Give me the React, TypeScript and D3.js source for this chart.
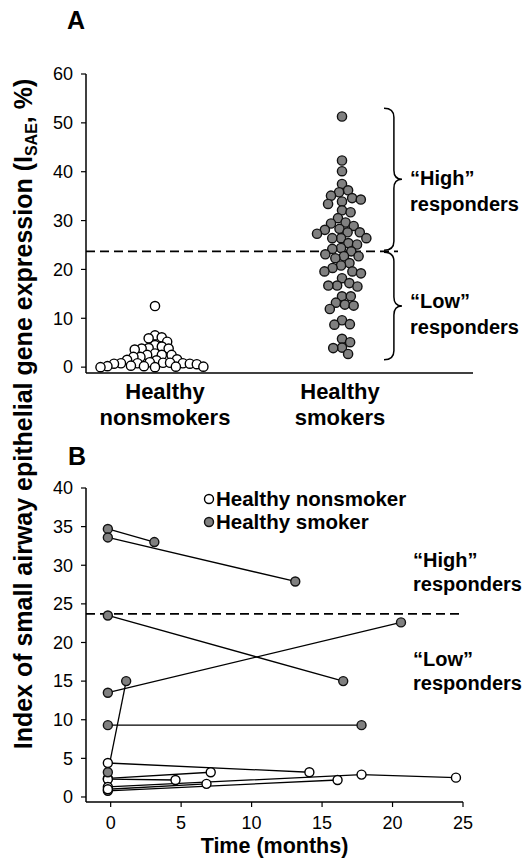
import React from "react";
import * as d3 from "d3";

// ---------- DATA ----------
const categoriesA = ["Healthy nonsmokers", "Healthy smokers"];
const nonsmokersA = [12.5, 6.5, 6.1, 5.9, 5.2, 4.5, 4.2, 3.9, 3.8, 3.8, 3.6, 2.8, 2.5, 2.5, 2.5, 2.1, 2.1, 1.6, 1.5, 1.4, 0.9, 0.7, 0.8, 0.6, 0.8, 1.0, 0.7, 0.9, 0.8, 0.1, 0.0, 0.2, 0.3, 0.1, 0.0, 0.2];
const smokersA = [51.3, 42.3, 40.1, 37.5, 36.2, 35.8, 35.1, 34.6, 34.3, 33.9, 33.4, 32.1, 31.7, 30.5, 29.6, 29.4, 28.9, 28.3, 28.1, 27.6, 27.6, 27.3, 26.4, 26.4, 26.4, 25.4, 25.1, 24.4, 24.2, 23.7, 23.1, 22.7, 22.7, 22.3, 21.3, 20.8, 20.3, 19.6, 19.6, 19.2, 18.2, 17.2, 16.7, 16.7, 16.5, 14.5, 14.5, 13.2, 12.8, 12.6, 11.9, 9.6, 8.8, 8.7, 5.8, 5.1, 4.0, 3.9, 2.7];
const yTicksA = [0, 10, 20, 30, 40, 50, 60];
const threshold = 23.7;
const highBraceA = [53, 23.9];
const lowBraceA = [23.5, 1.5];

// Panel B: each subject = list of [months, index]
const smokerSubjectsB: [number, number][][] = [
  [[-0.2, 34.7], [3.1, 33.0]],
  [[-0.2, 33.6], [13.1, 27.9]],
  [[-0.2, 23.5], [16.5, 15.0]],
  [[-0.2, 13.5], [20.6, 22.6]],
  [[-0.2, 3.2], [1.1, 15.0]],
  [[-0.2, 9.3], [17.8, 9.3]],
];
const nonsmokerSubjectsB: [number, number][][] = [
  [[-0.2, 4.4], [14.1, 3.2]],
  [[-0.2, 2.4], [7.1, 3.2]],
  [[-0.2, 2.3], [4.6, 2.2]],
  [[-0.2, 1.3], [17.8, 2.9], [24.5, 2.5]],
  [[-0.2, 0.8], [16.1, 2.2]],
  [[-0.2, 1.0], [6.8, 1.7]],
];
const xTicksB = [0, 5, 10, 15, 20, 25];
const yTicksB = [0, 5, 10, 15, 20, 25, 30, 35, 40];

const GREY = "#808080";
const FONT = "'Liberation Sans', Arial, sans-serif";

function beeswarm(values: number[], cx: number, y: (v: number) => number, d: number) {
  const pts = values.map((v) => ({ v, y: y(v), x: 0 })).sort((a, b) => a.y - b.y);
  const placed: { x: number; y: number }[] = [];
  for (const p of pts) {
    const cands = [0];
    for (const q of placed) {
      const dy = p.y - q.y;
      if (Math.abs(dy) < d) {
        const dx = Math.sqrt(d * d - dy * dy);
        cands.push(q.x + dx, q.x - dx);
      }
    }
    cands.sort((a, b) => Math.abs(a) - Math.abs(b));
    let chosen = 0;
    for (const c of cands) {
      let ok = true;
      for (const q of placed) {
        if (Math.hypot(c - q.x, p.y - q.y) < d - 0.01) { ok = false; break; }
      }
      if (ok) { chosen = c; break; }
    }
    p.x = chosen;
    placed.push({ x: chosen, y: p.y });
  }
  return pts.map((p) => ({ cx: cx + p.x, cy: p.y }));
}

function bracePath(x0: number, yTop: number, yBot: number, w: number) {
  const r = 9;
  const xm = x0 + w * 0.55;
  const ymid = (yTop + yBot) / 2;
  return `M${x0},${yTop} Q${xm},${yTop} ${xm},${yTop + r} L${xm},${ymid - r} Q${xm},${ymid} ${x0 + w},${ymid} Q${xm},${ymid} ${xm},${ymid + r} L${xm},${yBot - r} Q${xm},${yBot} ${x0},${yBot}`;
}

export default function App() {
  // Panel A scales
  const yA = d3.scaleLinear().domain([-1.2, 60]).range([373, 74]);
  const xA = d3.scalePoint<string>().domain(categoriesA).range([155, 342]);
  const axA = { left: 86, right: 473, bottom: 373 };
  const rA = 4.6;
  const nsPts = beeswarm(nonsmokersA, xA(categoriesA[0])!, yA, 7.0);
  const smPts = beeswarm(smokersA, xA(categoriesA[1])!, yA, 8.8);

  // Panel B scales
  const xB = d3.scaleLinear().domain([-1.75, 25]).range([86, 463]);
  const yB = d3.scaleLinear().domain([-0.65, 40]).range([802, 488]);
  const line = d3.line<[number, number]>().x((d) => xB(d[0])).y((d) => yB(d[1]));

  const braceX = 384;
  const tickFont = 18;
  const annFont = 20;
  const catFont = 22;

  return (
    <svg width={526} height={862} style={{ position: "absolute", left: 0, top: 0, background: "#fff" }} fontFamily={FONT}>
      {/* Panel labels */}
      <text x={67} y={29} fontSize={25} fontWeight="bold">A</text>
      <text x={68} y={465} fontSize={25} fontWeight="bold">B</text>

      {/* Y axis label */}
      <text transform={`translate(32,414) rotate(-90)`} textAnchor="middle" fontSize={25} fontWeight="bold">
        Index of small airway epithelial gene expression (I
        <tspan fontSize={16} dy={5}>SAE</tspan>
        <tspan dy={-5}>, %)</tspan>
      </text>

      {/* ===== Panel A ===== */}
      <line x1={axA.left} x2={axA.left} y1={yA(60)} y2={axA.bottom} stroke="#000" strokeWidth={1.5} />
      <line x1={axA.left} x2={axA.right} y1={axA.bottom} y2={axA.bottom} stroke="#000" strokeWidth={1.5} />
      {yTicksA.map((t) => (
        <g key={t}>
          <line x1={axA.left - 5} x2={axA.left} y1={yA(t)} y2={yA(t)} stroke="#000" strokeWidth={1.2} />
          <text x={axA.left - 13} y={yA(t)} dy="0.35em" textAnchor="end" fontSize={tickFont}>{t}</text>
        </g>
      ))}
      {categoriesA.map((c) => {
        const [w1, w2] = c.split(" ");
        const cx = xA(c)! + (c === categoriesA[0] ? 10 : -2);
        return (
          <text key={c} x={cx} textAnchor="middle" fontSize={catFont} fontWeight="bold">
            <tspan x={cx} y={399}>{w1}</tspan>
            <tspan x={cx} y={425}>{w2}</tspan>
          </text>
        );
      })}
      <line x1={axA.left} x2={398} y1={yA(threshold)} y2={yA(threshold)} stroke="#000" strokeWidth={1.6} strokeDasharray="9,5" />
      {nsPts.map((p, i) => (
        <circle key={"n" + i} cx={p.cx} cy={p.cy} r={rA} fill="#fff" stroke="#000" strokeWidth={1.4} />
      ))}
      {smPts.map((p, i) => (
        <circle key={"s" + i} cx={p.cx} cy={p.cy} r={rA} fill={GREY} stroke="#111" strokeWidth={1.4} />
      ))}
      <path d={bracePath(braceX, yA(highBraceA[0]), yA(highBraceA[1]), 18)} fill="none" stroke="#000" strokeWidth={1.5} />
      <path d={bracePath(braceX, yA(lowBraceA[0]), yA(lowBraceA[1]), 18)} fill="none" stroke="#000" strokeWidth={1.5} />
      <text x={410} fontSize={annFont} fontWeight="bold">
        <tspan x={410} y={185}>“High”</tspan>
        <tspan x={410} y={211}>responders</tspan>
      </text>
      <text x={410} fontSize={annFont} fontWeight="bold">
        <tspan x={410} y={308}>“Low”</tspan>
        <tspan x={410} y={334}>responders</tspan>
      </text>

      {/* ===== Panel B ===== */}
      <line x1={86} x2={86} y1={yB(40)} y2={802} stroke="#000" strokeWidth={1.5} />
      <line x1={86} x2={xB(25)} y1={802} y2={802} stroke="#000" strokeWidth={1.5} />
      {yTicksB.map((t) => (
        <g key={t}>
          <line x1={81} x2={86} y1={yB(t)} y2={yB(t)} stroke="#000" strokeWidth={1.2} />
          <text x={73} y={yB(t)} dy="0.35em" textAnchor="end" fontSize={tickFont}>{t}</text>
        </g>
      ))}
      {xTicksB.map((t) => (
        <g key={t}>
          <line x1={xB(t)} x2={xB(t)} y1={802} y2={807} stroke="#000" strokeWidth={1.2} />
          <text x={xB(t)} y={829} textAnchor="middle" fontSize={tickFont}>{t}</text>
        </g>
      ))}
      <text x={(86 + xB(25)) / 2} y={853} textAnchor="middle" fontSize={21.5} fontWeight="bold">Time (months)</text>
      <line x1={86} x2={460} y1={yB(threshold)} y2={yB(threshold)} stroke="#000" strokeWidth={1.6} strokeDasharray="9,5" />
      {nonsmokerSubjectsB.map((s, i) => (
        <path key={"nl" + i} d={line(s)!} fill="none" stroke="#000" strokeWidth={1.3} />
      ))}
      {smokerSubjectsB.map((s, i) => (
        <path key={"sl" + i} d={line(s)!} fill="none" stroke="#000" strokeWidth={1.3} />
      ))}
      {nonsmokerSubjectsB.flat().map((p, i) => (
        <circle key={"np" + i} cx={xB(p[0])} cy={yB(p[1])} r={4.5} fill="#fff" stroke="#000" strokeWidth={1.4} />
      ))}
      {smokerSubjectsB.flat().map((p, i) => (
        <circle key={"sp" + i} cx={xB(p[0])} cy={yB(p[1])} r={4.5} fill={GREY} stroke="#111" strokeWidth={1.4} />
      ))}
      {/* Legend */}
      <circle cx={209} cy={499} r={4.5} fill="#fff" stroke="#000" strokeWidth={1.4} />
      <text x={216} y={506} fontSize={20.5} fontWeight="bold">Healthy nonsmoker</text>
      <circle cx={209} cy={522} r={4.5} fill={GREY} stroke="#111" strokeWidth={1.4} />
      <text x={216} y={529} fontSize={20.5} fontWeight="bold">Healthy smoker</text>
      <text x={413} fontSize={annFont} fontWeight="bold">
        <tspan x={413} y={567}>“High”</tspan>
        <tspan x={413} y={591}>responders</tspan>
      </text>
      <text x={413} fontSize={annFont} fontWeight="bold">
        <tspan x={413} y={666}>“Low”</tspan>
        <tspan x={413} y={690}>responders</tspan>
      </text>
    </svg>
  );
}
